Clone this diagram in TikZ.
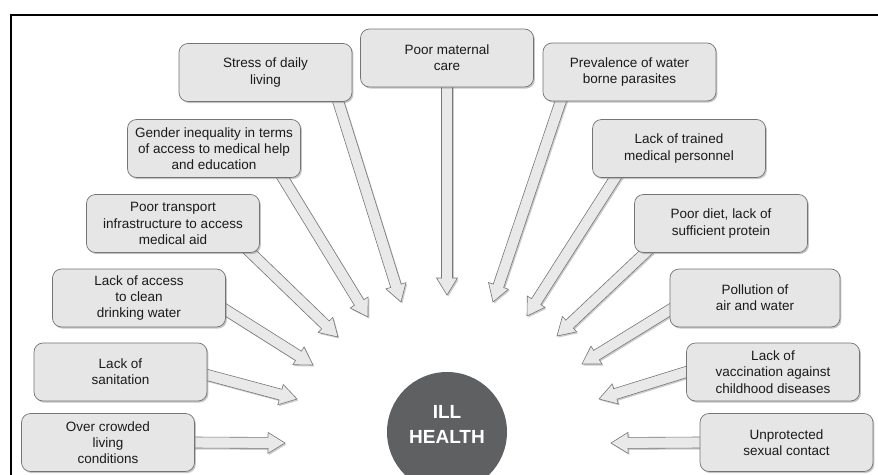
\documentclass[tikz,border=0pt]{standalone}
\usepackage{fontspec}
\setmainfont{Liberation Sans}
\usetikzlibrary{calc,shadows}
\pgfdeclarelayer{paper}
\pgfdeclarelayer{back}
\pgfsetlayers{paper,back,main}
\definecolor{boxfill}{HTML}{E6E6E6}
\definecolor{boxline}{HTML}{747474}
\definecolor{arrowfill}{HTML}{E9E9E9}
\definecolor{arrowline}{HTML}{777777}
\definecolor{circfill}{HTML}{5F6062}
\definecolor{txt}{HTML}{1A1A1A}
\tikzset{
  causebox/.style={draw=boxline, fill=boxfill, line width=0.7pt, rounded corners=9pt,
    minimum width=173pt, minimum height=58pt, inner sep=2pt, align=center, text=txt,
    font={\fontsize{13.5}{16.3}\selectfont},
    execute at begin node={\rule{0pt}{14.5pt}},
    drop shadow={shadow xshift=1.4pt, shadow yshift=-1.6pt, opacity=0.45}},
  blockarrow/.style={draw=arrowline, fill=arrowfill, line width=0.6pt, line join=miter,
    drop shadow={shadow xshift=1.3pt, shadow yshift=-1.5pt, opacity=0.4}},
  illcircle/.style={circle, fill=circfill, minimum size=120pt, inner sep=0pt},
  illtext/.style={text=white, align=center, font={\fontsize{19}{25}\selectfont\bfseries}}
}
\newcommand{\barrow}[2]{%
  \draw[blockarrow] let \p1=(#1), \p2=(#2),
    \n1={atan2(\y2-\y1,\x2-\x1)}, \n2={veclen(\x2-\x1,\y2-\y1)} in
    ($(\p1)+(\n1:-6pt)+(\n1+90:5.5pt)$) --
    ($(\p1)+(\n1:\n2-17pt)+(\n1+90:5.5pt)$) --
    ($(\p1)+(\n1:\n2-17pt)+(\n1+90:10.5pt)$) --
    (\p2) --
    ($(\p1)+(\n1:\n2-17pt)+(\n1-90:10.5pt)$) --
    ($(\p1)+(\n1:\n2-17pt)+(\n1-90:5.5pt)$) --
    ($(\p1)+(\n1:-6pt)+(\n1-90:5.5pt)$) -- cycle;}
\begin{document}
\begin{tikzpicture}[x=1pt, y=-1pt]
\useasboundingbox (0,0) rectangle (878,474);
\clip (0,0) rectangle (878,474);
\begin{pgfonlayer}{paper}
\fill[white] (0,0) rectangle (878,474);
\end{pgfonlayer}
% frame
\draw[line width=2.3pt] (11.3,490) -- (11.3,15) -- (890,15);

% boxes
\node[causebox] (stress) at (265.5,72.5) {Stress of daily\\living};
\node[causebox] (maternal) at (447,58) {Poor maternal\\care};
\node[causebox] (prev) at (629.5,72) {Prevalence of water\\borne parasites};
\node[causebox] (gender) at (214,148.5) {Gender inequality in terms\\of access to medical help\\and education};
\node[causebox] (trained) at (679,148.5) {Lack of trained\\medical personnel};
\node[causebox] (transport) at (173,223.5) {Poor transport\\infrastructure to access\\medical aid};
\node[causebox] (diet) at (721,223.5) {Poor diet, lack of\\sufficient protein};
\node[causebox] (access) at (139,298) {Lack of access\\to clean\\drinking water};
\node[causebox, minimum width=170pt] (pollution) at (755,298) {Pollution of\\air and water};
\node[causebox] (sanit) at (120.5,372) {Lack of\\sanitation};
\node[causebox] (vacc) at (773,372) {Lack of\\vaccination against\\childhood diseases};
\node[causebox] (crowd) at (108,442.5) {Over crowded\\living\\conditions};
\node[causebox] (unprot) at (786.5,442.5) {Unprotected\\sexual contact};

% centre
\node[illcircle] (ill) at (447,432) {};
\node[illtext] (illtxt) at ([yshift=7.5pt]ill.center) {ILL\\HEALTH};

% arrow tips
\coordinate (tStress) at (401,302);
\coordinate (tMaternal) at (447,295);
\coordinate (tPrev) at (493,302);
\coordinate (tGender) at (368,317);
\coordinate (tTrained) at (527,316);
\coordinate (tTransport) at (338,337);
\coordinate (tDiet) at (557,336);
\coordinate (tAccess) at (313,365);
\coordinate (tPollution) at (582,364);
\coordinate (tSanit) at (297,399);
\coordinate (tVacc) at (599,399);
\coordinate (tCrowd) at (285,443);
\coordinate (tUnprot) at (611,443);

\begin{pgfonlayer}{back}
\barrow{[xshift=-14pt]stress.south east}{tStress}
\barrow{maternal.south}{tMaternal}
\barrow{[xshift=18pt]prev.south west}{tPrev}
\barrow{[xshift=-18pt]gender.south east}{tGender}
\barrow{[xshift=23pt]trained.south west}{tTrained}
\barrow{[xshift=-9pt]transport.south east}{tTransport}
\barrow{[xshift=11pt]diet.south west}{tDiet}
\barrow{[yshift=-12pt]access.east}{tAccess}
\barrow{[yshift=-12pt]pollution.west}{tPollution}
\barrow{[yshift=-3pt]sanit.east}{tSanit}
\barrow{vacc.west}{tVacc}
\barrow{crowd.east}{tCrowd}
\barrow{unprot.west}{tUnprot}
\end{pgfonlayer}
\end{tikzpicture}
\end{document}
